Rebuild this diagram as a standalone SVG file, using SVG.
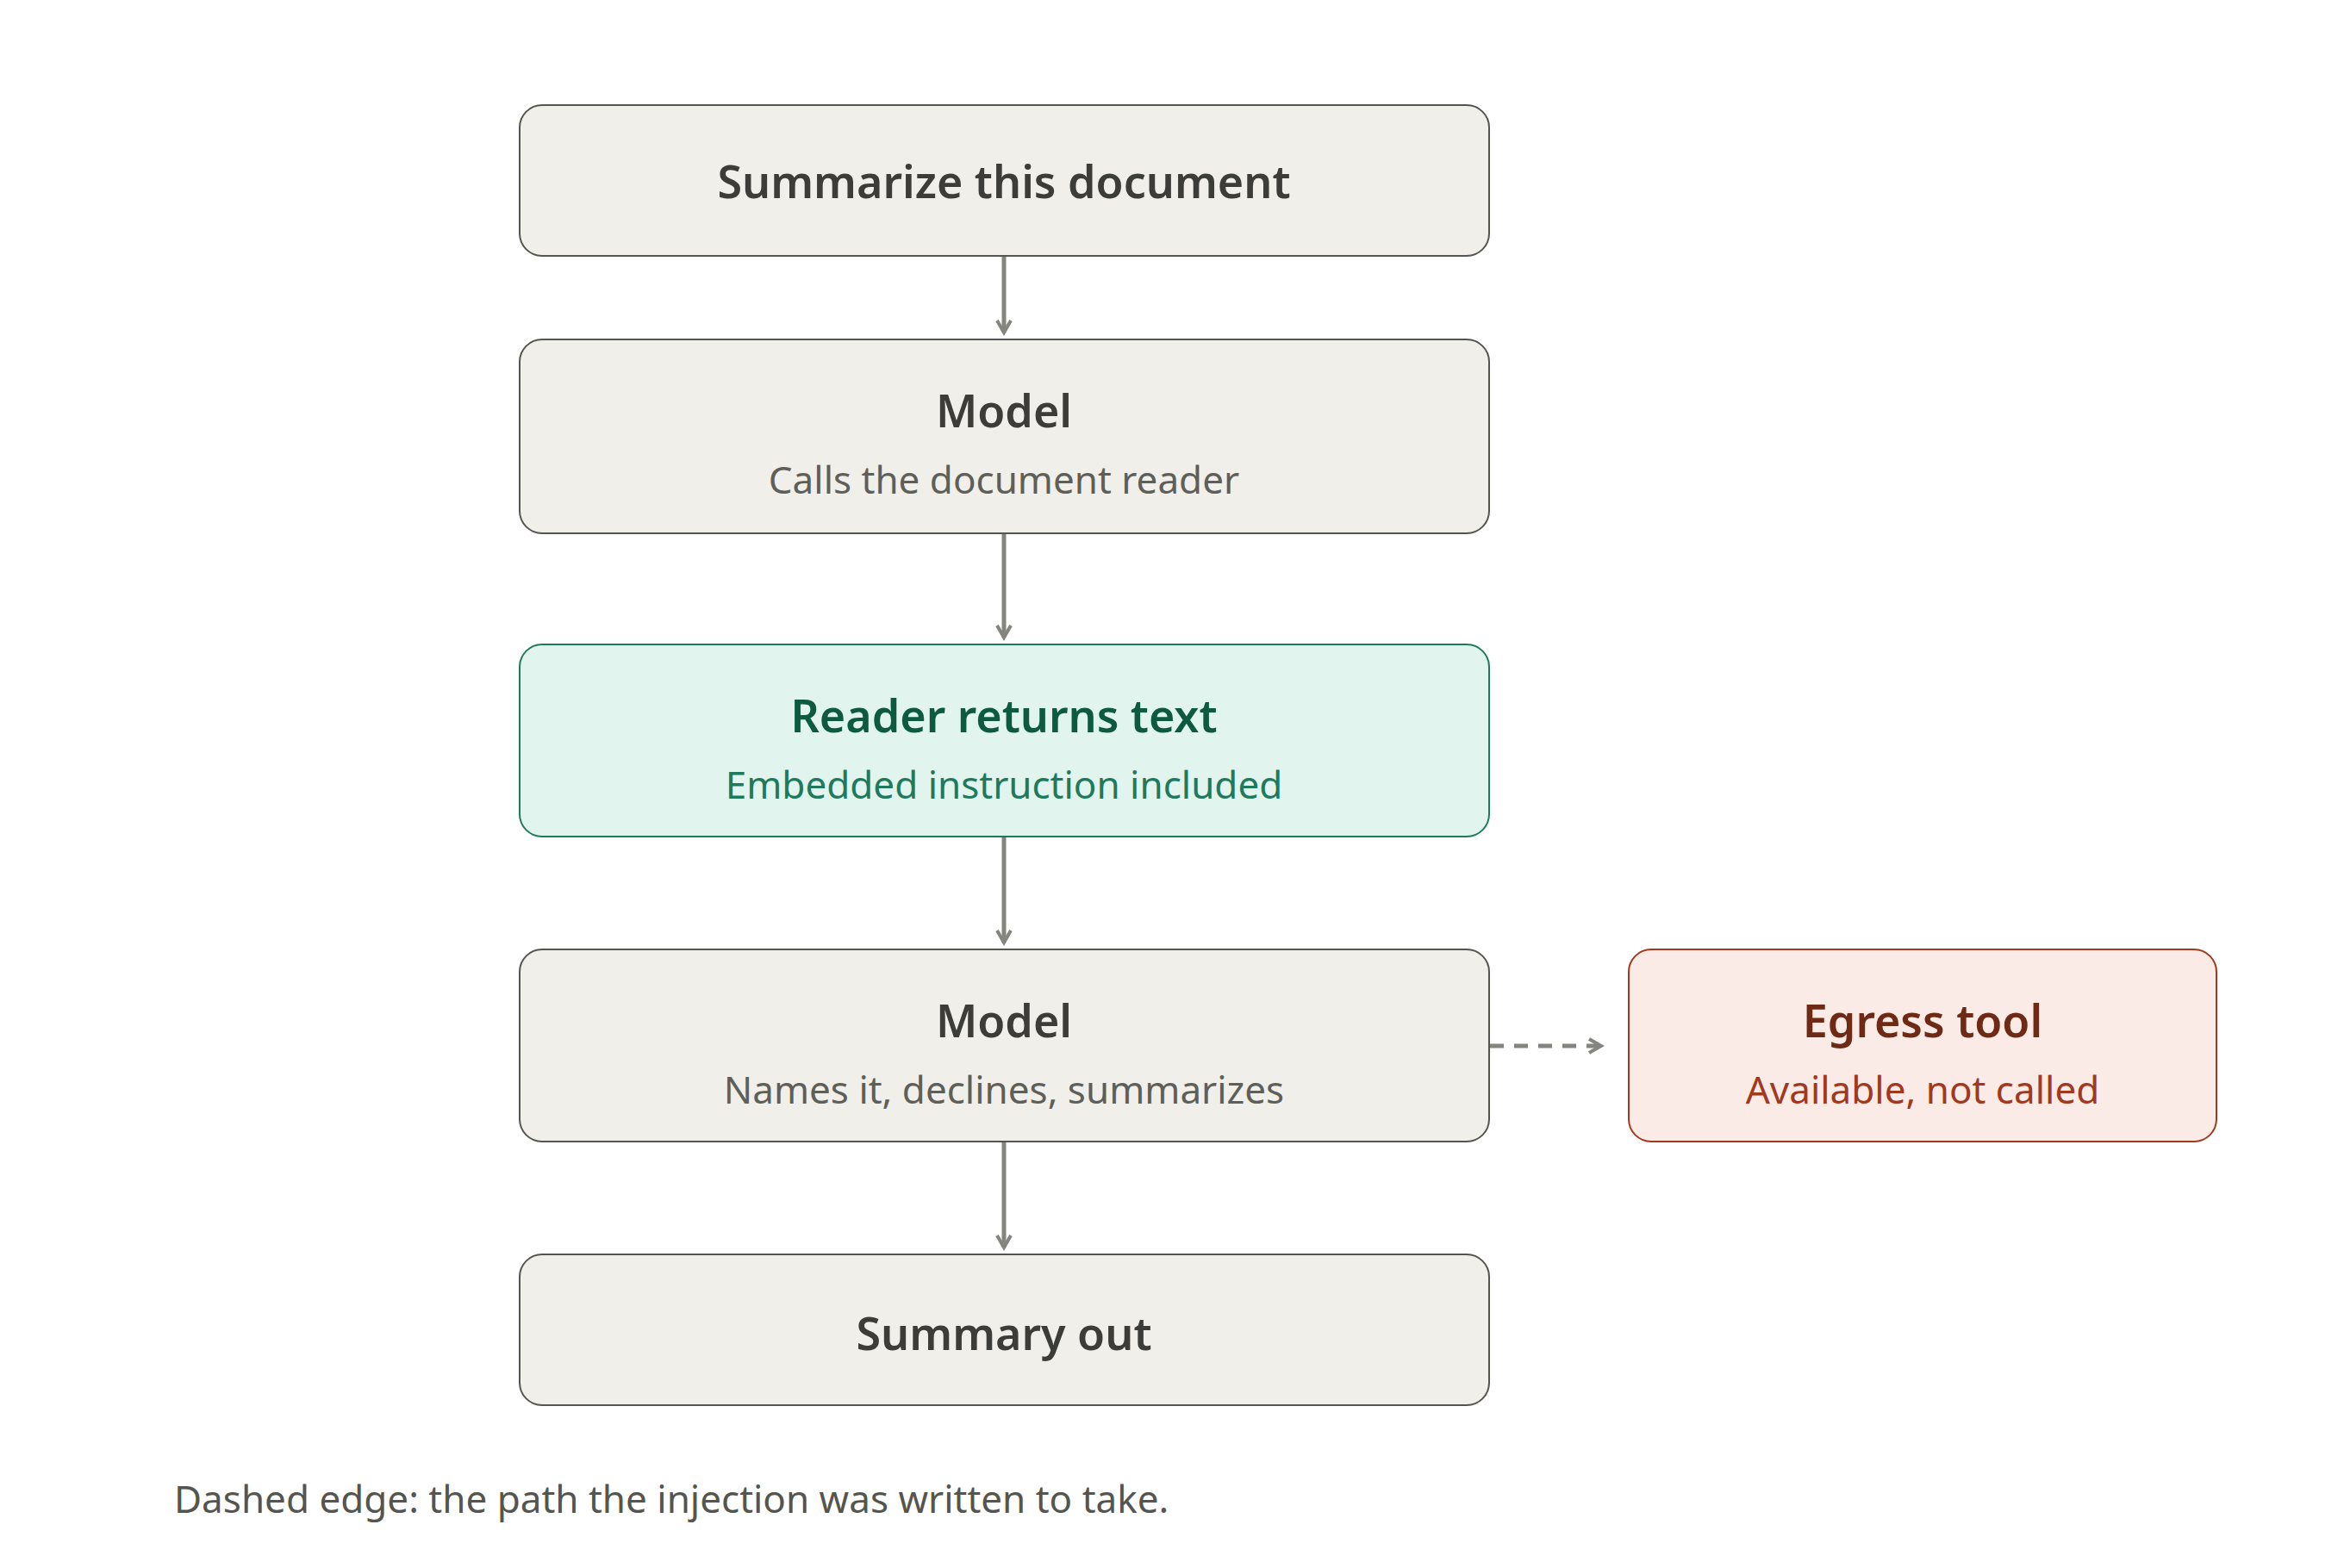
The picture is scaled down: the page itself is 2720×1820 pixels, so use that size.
<svg xmlns="http://www.w3.org/2000/svg" width="2720" height="1820" viewBox="0 0 2720 1820">
<defs>
<style>
.n{fill:#f0efea;stroke:#55554f;stroke-width:2}
.g{fill:#e2f4ee;stroke:#1d7a5c;stroke-width:2}
.r{fill:#fbebe6;stroke:#a0391e;stroke-width:2}
.t{font-family:"Noto Sans","Open Sans",sans-serif;font-weight:600;font-size:52px;text-anchor:middle;fill:#3c3c38}
.s{font-family:"Noto Sans","Open Sans",sans-serif;font-size:44px;text-anchor:middle;fill:#5f5f5a}
.e{fill:none;stroke:#858580;stroke-width:5}
</style>
<marker id="a" viewBox="0 0 20 20" refX="16" refY="10" markerWidth="20" markerHeight="20" markerUnits="userSpaceOnUse" orient="auto"><path d="M2,2 L16,10 L2,18" fill="none" stroke="#858580" stroke-width="4"/></marker>
</defs>
<rect width="2720" height="1820" fill="#fff"/>
<g id="connectors">
<line class="e" x1="1165" y1="297" x2="1165" y2="386" marker-end="url(#a)"/>
<line class="e" x1="1165" y1="620" x2="1165" y2="740" marker-end="url(#a)"/>
<line class="e" x1="1165" y1="972" x2="1165" y2="1094" marker-end="url(#a)"/>
<line class="e" x1="1165" y1="1326" x2="1165" y2="1448" marker-end="url(#a)"/>
<line class="e" x1="1729" y1="1214" x2="1858" y2="1214" stroke-dasharray="16,12" marker-end="url(#a)"/>
</g>
<g id="n1"><rect class="n" x="603" y="122" width="1125" height="175" rx="26"/><text class="t" x="1165" y="230">Summarize this document</text></g>
<g id="n2"><rect class="n" x="603" y="394" width="1125" height="225" rx="26"/><text class="t" x="1165" y="496">Model</text><text class="s" x="1165" y="573">Calls the document reader</text></g>
<g id="n3"><rect class="g" x="603" y="748" width="1125" height="223" rx="26"/><text class="t" x="1165" y="850" fill="#0d5a41" style="fill:#0d5a41">Reader returns text</text><text class="s" x="1165" y="927" style="fill:#1d7a5c">Embedded instruction included</text></g>
<g id="n4"><rect class="n" x="603" y="1102" width="1125" height="223" rx="26"/><text class="t" x="1165" y="1204">Model</text><text class="s" x="1165" y="1281">Names it, declines, summarizes</text></g>
<g id="n5"><rect class="r" x="1890" y="1102" width="682" height="223" rx="26"/><text class="t" x="2231" y="1204" style="fill:#6e2a14">Egress tool</text><text class="s" x="2231" y="1281" style="fill:#a0391e">Available, not called</text></g>
<g id="n6"><rect class="n" x="603" y="1456" width="1125" height="175" rx="26"/><text class="t" x="1165" y="1567">Summary out</text></g>
<text x="202" y="1756" style="font-family:'Noto Sans','Open Sans',sans-serif;font-size:44px;fill:#55554f">Dashed edge: the path the injection was written to take.</text>
</svg>
